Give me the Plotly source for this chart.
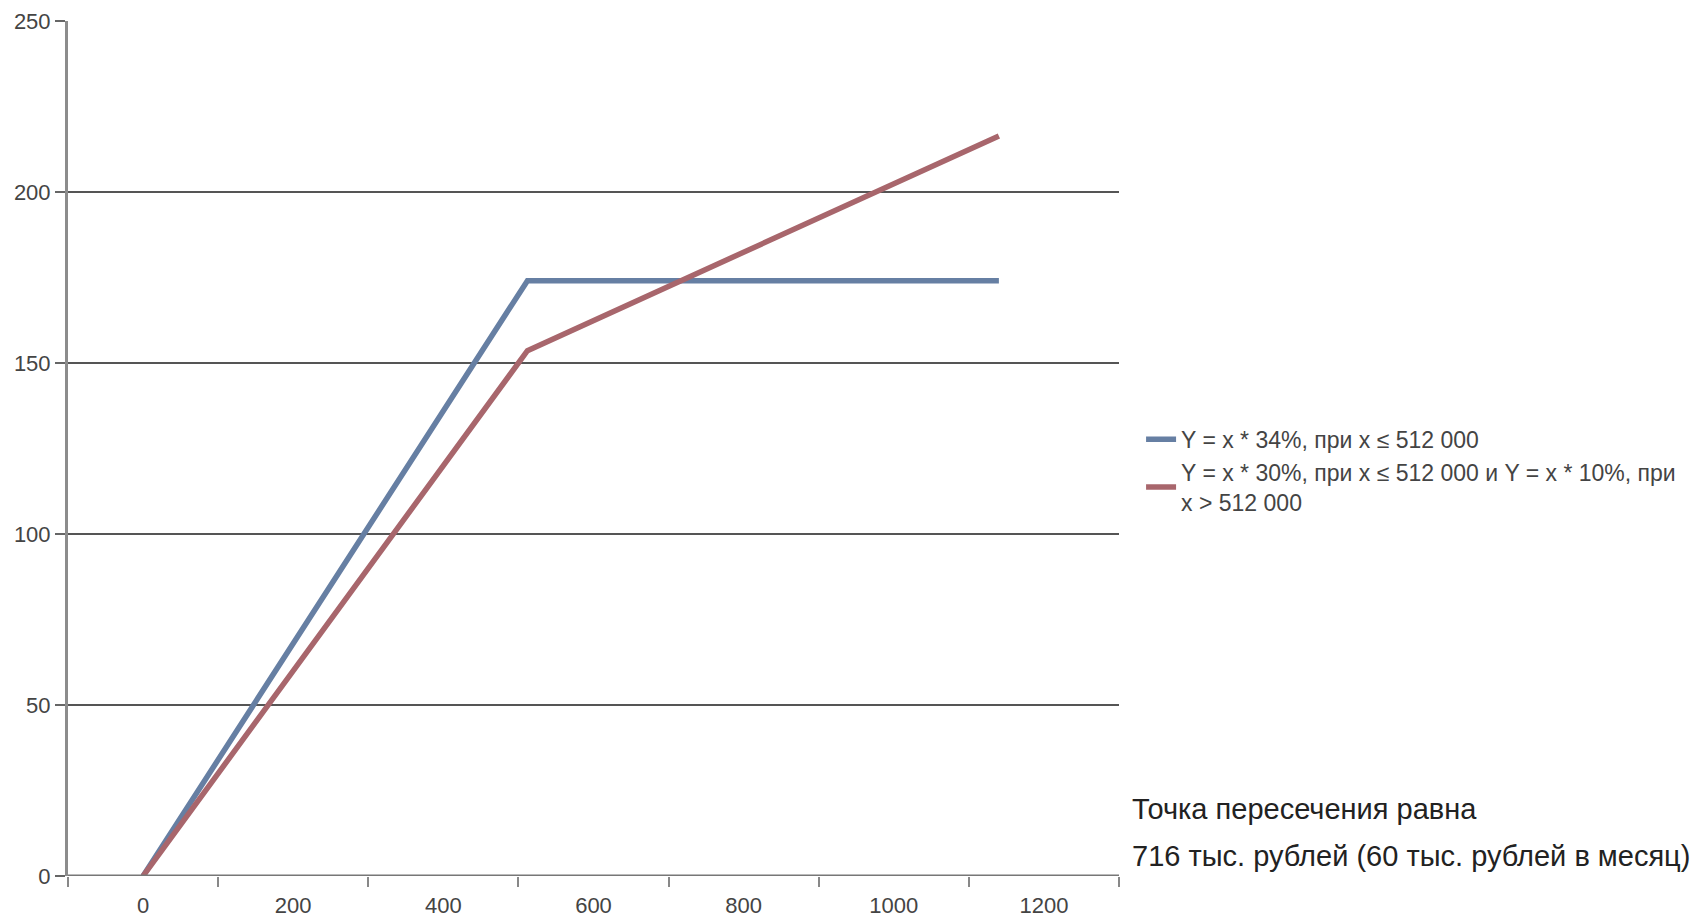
import plotly.graph_objects as go

# Annual income, thousand rubles
income_flat = [0, 512, 1140]
contrib_flat = [0, 174.08, 174.08]

income_tiered = [0, 512, 1140]
contrib_tiered = [0, 153.6, 216.4]

x_tick_vals = [0, 200, 400, 600, 800, 1000, 1200]
y_tick_vals = [0, 50, 100, 150, 200, 250]

series_names = [
    "Y = x * 34%, при x ≤ 512 000",
    "Y = x * 30%, при x ≤ 512 000 и Y = x * 10%, при<br>x > 512 000",
]
note_lines = [
    "Точка пересечения равна",
    "716 тыс. рублей (60 тыс. рублей в месяц)",
]

FONT = "Liberation Sans"
BLUE = "#667fa3"
RED = "#a8666c"

fig = go.Figure()
fig.add_trace(go.Scatter(x=income_flat, y=contrib_flat, mode="lines",
                         name=series_names[0],
                         line=dict(color=BLUE, width=5.5)))
fig.add_trace(go.Scatter(x=income_tiered, y=contrib_tiered, mode="lines",
                         name=series_names[1],
                         line=dict(color=RED, width=5.5)))

fig.update_layout(
    width=1694, height=919,
    margin=dict(l=68, r=575, t=21, b=43),
    paper_bgcolor="white", plot_bgcolor="white",
    font=dict(family=FONT, size=22, color="#333333"),
    showlegend=True,
    legend=dict(x=1.021, y=0.474, xanchor="left", yanchor="middle",
                font=dict(family=FONT, size=23, color="#444444"),
                itemwidth=30, tracegroupgap=3, valign="middle",
                bgcolor="rgba(0,0,0,0)"),
    xaxis=dict(range=[-100, 1300], tickvals=x_tick_vals, ticks="",
               showgrid=False, zeroline=False, showline=False,
               ticklabelstandoff=14, automargin=False,
               tickfont=dict(size=22, color="#444444"),
               minor=dict(ticks="outside", tick0=-100, dtick=200,
                          ticklen=10, tickwidth=2, tickcolor="#888888",
                          showgrid=False)),
    yaxis=dict(range=[0, 250], tickvals=y_tick_vals, ticks="outside",
               ticklen=10, tickwidth=2, tickcolor="#666666",
               showgrid=True, gridcolor="#555555", gridwidth=2,
               zeroline=False, showline=True, linecolor="#8c8c8c",
               linewidth=3, automargin=False,
               tickfont=dict(size=22, color="#444444")),
)

# x axis baseline drawn across the plot at y = 0
fig.add_shape(type="line", xref="paper", yref="y", x0=0, x1=1, y0=0, y1=0,
              line=dict(color="#777777", width=3), layer="above")

for i, txt in enumerate(note_lines):
    fig.add_annotation(text=txt, xref="paper", yref="paper",
                       x=1.0105, y=[0.078, 0.023][i], xanchor="left",
                       yanchor="middle", showarrow=False,
                       font=dict(family=FONT, size=29, color="#222222"))

fig.write_html("out.html")
